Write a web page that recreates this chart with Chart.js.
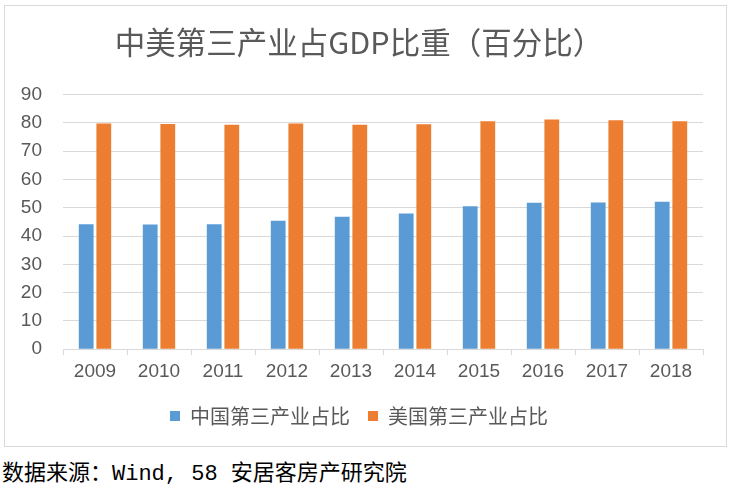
<!DOCTYPE html>
<html>
<head>
<meta charset="utf-8">
<script src="https://cdn.jsdelivr.net/npm/chart.js@4"></script>
<style>
  html, body { margin: 0; padding: 0; background: #fff; }
  body { width: 735px; height: 492px; position: relative; overflow: hidden; }
  #box { position: absolute; left: 4px; top: 5px; width: 721px; height: 440px; border: 1px solid #d9d9d9; }
  #chart { display: block; }
  #source { position: absolute; left: 2px; top: 454px; font-size: 22px; color: #000;
            font-family: "Liberation Mono", "Noto Sans CJK SC", serif; white-space: nowrap; }
</style>
</head>
<body>
<div id="box"><canvas id="chart" width="721" height="440"></canvas></div>
<div id="source">数据来源：Wind, 58 安居客房产研究院</div>
<script>
// data
const years = ["2009", "2010", "2011", "2012", "2013", "2014", "2015", "2016", "2017", "2018"];
const chinaShare = [44.2, 44.1, 44.2, 45.4, 46.8, 48.0, 50.5, 51.8, 51.9, 52.1];
const usShare = [79.8, 79.6, 79.3, 79.8, 79.3, 79.5, 80.6, 81.2, 80.9, 80.6];
const yTicks = [0, 10, 20, 30, 40, 50, 60, 70, 80, 90];

const textColor = "#595959";
const cjkFont = "'Noto Sans CJK SC', 'Noto Sans', sans-serif";
const numFont = "'Liberation Sans', 'Noto Sans CJK SC', sans-serif";

const ctx = document.getElementById("chart").getContext("2d");
const chart = new Chart(ctx, {
    type: "bar",
    data: {
        labels: years,
        datasets: [
            {
                label: "中国第三产业占比",
                data: chinaShare,
                backgroundColor: "#5b9bd5",
                borderWidth: 0,
                barPercentage: 0.84,
                categoryPercentage: 0.55
            },
            {
                label: "美国第三产业占比",
                data: usShare,
                backgroundColor: "#ed7d31",
                borderWidth: 0,
                barPercentage: 0.84,
                categoryPercentage: 0.55
            }
        ]
    },
    options: {
        responsive: false,
        animation: false,
        layout: { padding: { left: 10, right: 23, top: 0, bottom: 10 } },
        plugins: {
            title: {
                display: true,
                text: "中美第三产业占GDP比重（百分比）",
                color: textColor,
                font: { family: cjkFont, size: 30.5, weight: "normal", lineHeight: 1.2 },
                padding: { top: 18, bottom: 34 }
            },
            legend: {
                position: "bottom",
                labels: {
                    color: textColor,
                    font: { family: cjkFont, size: 20 },
                    boxWidth: 10,
                    boxHeight: 10,
                    padding: 18
                }
            },
            tooltip: { enabled: false }
        },
        scales: {
            x: {
                grid: {
                    offset: true,
                    drawOnChartArea: false,
                    drawTicks: true,
                    tickLength: 6,
                    color: "#d9d9d9"
                },
                border: { display: true, color: "#d9d9d9" },
                ticks: {
                    color: textColor,
                    font: { family: numFont, size: 19 },
                    padding: 5,
                    maxRotation: 0
                }
            },
            y: {
                min: 0,
                max: 90,
                afterBuildTicks: (scale) => {
                    scale.ticks = yTicks.map(v => ({ value: v }));
                },
                afterFit: (scale) => { scale.width = 48; },
                grid: { color: "#d9d9d9", lineWidth: 1, drawTicks: false },
                border: { display: false },
                ticks: {
                    color: textColor,
                    font: { family: numFont, size: 19 },
                    padding: 21
                }
            }
        }
    }
});
</script>
</body>
</html>
